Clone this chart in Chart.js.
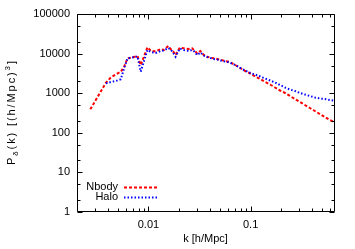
<!DOCTYPE html>
<html>
<head>
<meta charset="utf-8">
<script src="https://cdn.jsdelivr.net/npm/chart.js@4.4.1/dist/chart.umd.min.js"></script>
<style>
  html, body { margin: 0; padding: 0; background: #fff; }
</style>
</head>
<body>
<canvas id="powerChart" width="355" height="249"></canvas>
<script>
// wavenumber bins k [h/Mpc]
const kValues = [0.00270, 0.00384, 0.00430, 0.00480, 0.00537, 0.00579, 0.00624, 0.00699, 0.00781, 0.00841,
    0.00978, 0.01053, 0.01178, 0.01318, 0.01419, 0.01565, 0.01649, 0.01752, 0.01844, 0.0203,
    0.0222, 0.0249, 0.0268, 0.0278, 0.0300, 0.0323, 0.0348, 0.0375, 0.0404, 0.0435,
    0.0470, 0.0506, 0.0566, 0.0623, 0.0708, 0.0792, 0.0886, 0.0991, 0.1108, 0.1240,
    0.1388, 0.1552, 0.1736, 0.1942, 0.2173, 0.2430, 0.2719, 0.3041, 0.3401, 0.3805,
    0.4256, 0.4761, 0.5326, 0.5958, 0.6516];

// P(k) of the N-body particles
const nbodyPower = [392, 1842, 2521, 2966, 3491, 4670, 7607, 8066, 8700, 5153,
    14420, 11840, 11300, 13070, 12330, 15560, 13070, 11170, 9220, 14090,
    13610, 13070, 13610, 12330, 10180, 11630, 9220, 8350, 7880, 7607,
    7306, 7015, 6503, 6137, 5153, 4329, 3636, 3144, 2640, 2284,
    1918, 1658, 1393, 1170, 1012, 850, 714, 600, 504, 423,
    355, 298, 251, 210, 191];

// P(k) of the halos
const haloPower = [null, 1778, 1918, 2033, 2244, 4329, 7520, 7970, 8450, 3491,
    12330, 10980, 10360, 11630, 11970, 13850, 12690, 10360, 8350, 13450,
    12330, 11630, 12330, 11630, 9220, 10660, 8950, 8206, 7740, 7306,
    7100, 6695, 6318, 5962, 5153, 4329, 3743, 3236, 2966, 2640,
    2350, 2093, 1863, 1611, 1393, 1240, 1137, 1012, 927, 850,
    779, 735, 714, 673, 654];

const xTickLabels = ["0.01", "0.1"];
const yTickLabels = ["1", "10", "100", "1000", "10000", "100000"];

const FONT = '"Liberation Sans", Arial, Helvetica, sans-serif';
Chart.defaults.font.family = FONT;
Chart.defaults.font.size = 11;
Chart.defaults.color = "#000";

function pickLabel(list) {
    return function (value) {
        const s = String(Number(Number(value).toPrecision(6)));
        return list.includes(s) ? s : "";
    };
}

// gnuplot-like frame with inward ticks on all four sides
const frameTicks = {
    id: "frameTicks",
    afterDraw(chart) {
        const { ctx, chartArea: a } = chart;
        const x = chart.scales.x, y = chart.scales.y;
        const L = Math.round(a.left) + 0.5, R = Math.round(a.right) + 0.5;
        const T = Math.round(a.top) + 0.5, B = Math.round(a.bottom) - 0.5;
        ctx.save();
        ctx.strokeStyle = "#000";
        ctx.lineWidth = 1;
        ctx.beginPath();
        for (let e = -3; e <= 0; e++) {
            for (let m = 1; m <= 9; m++) {
                const v = m * Math.pow(10, e);
                if (v < x.min || v > x.max) continue;
                const px = Math.round(x.getPixelForValue(v)) + 0.5;
                const len = m === 1 ? 5 : 3;
                ctx.moveTo(px, B); ctx.lineTo(px, B - len);
                ctx.moveTo(px, T); ctx.lineTo(px, T + len);
            }
        }
        for (let e = 0; e <= 5; e++) {
            [1, 2, 5].forEach(m => {
                const v = m * Math.pow(10, e);
                if (v < y.min || v > y.max) return;
                const py = Math.round(y.getPixelForValue(v)) + 0.5;
                const len = m === 1 ? 5 : 3;
                ctx.moveTo(L, py); ctx.lineTo(L + len, py);
                ctx.moveTo(R, py); ctx.lineTo(R - len, py);
            });
        }
        ctx.rect(L, T, R - L, B - T);
        ctx.stroke();

        // y axis title with sub/superscript, spread out like the gnuplot one
        ctx.fillStyle = "#000";
        ctx.textBaseline = "alphabetic";
        const parts = [
            { t: "P", size: 11, dy: 0 },
            { t: "\u03b4", size: 8, dy: 3 },
            { t: "(k) [(h/Mpc)", size: 11, dy: 0 },
            { t: "3", size: 8, dy: -5 },
            { t: "]", size: 11, dy: 0 }
        ];
        const glyphs = [];
        parts.forEach(p => {
            ctx.font = p.size + "px " + FONT;
            for (const c of p.t) glyphs.push({ c, size: p.size, dy: p.dy, w: ctx.measureText(c).width });
        });
        const natural = glyphs.reduce((s, g) => s + g.w, 0);
        const span = 104;
        const gap = (span - natural) / (glyphs.length - 1);
        ctx.translate(15, 113);
        ctx.rotate(-Math.PI / 2);
        let cx = -span / 2;
        glyphs.forEach(g => {
            ctx.font = g.size + "px " + FONT;
            ctx.fillText(g.c, cx, g.dy);
            cx += g.w + gap;
        });
        ctx.restore();

        // key, gnuplot style: text then line sample
        ctx.save();
        ctx.font = "11px " + FONT;
        ctx.textAlign = "right";
        ctx.textBaseline = "middle";
        chart.data.datasets.forEach((ds, i) => {
            const ly = 187 + i * 10;
            ctx.fillStyle = "#000";
            ctx.fillText(ds.label, 118, ly);
            ctx.strokeStyle = ds.borderColor;
            ctx.lineWidth = ds.borderWidth;
            ctx.setLineDash(ds.borderDash);
            ctx.beginPath();
            ctx.moveTo(124, ly + 0.5);
            ctx.lineTo(158, ly + 0.5);
            ctx.stroke();
        });
        ctx.restore();
    }
};

function renderChart() {
    const ctx = document.getElementById("powerChart").getContext("2d");
    new Chart(ctx, {
        type: "line",
        data: {
            datasets: [
                {
                    label: "Nbody",
                    data: kValues.map((k, i) => ({ x: k, y: nbodyPower[i] })),
                    borderColor: "rgb(255,0,0)",
                    borderWidth: 2,
                    borderDash: [3, 2],
                    pointRadius: 0,
                    tension: 0,
                    order: 1,
                },
                {
                    label: "Halo",
                    data: kValues.map((k, i) => ({ x: k, y: haloPower[i] })),
                    borderColor: "rgb(0,0,255)",
                    borderWidth: 2,
                    borderDash: [1.5, 2],
                    pointRadius: 0,
                    tension: 0,
                    order: 0,
                },
            ],
        },
        options: {
            responsive: false,
            animation: false,
            devicePixelRatio: 1,
            layout: { padding: { left: 0, right: 21, top: 14, bottom: 0 } },
            plugins: {
                legend: { display: false },
                tooltip: { enabled: false },
            },
            scales: {
                x: {
                    type: "logarithmic",
                    min: 0.002,
                    max: 0.655,
                    grid: { display: false, drawTicks: false },
                    border: { display: false },
                    ticks: { autoSkip: false, maxRotation: 0, padding: 6, callback: pickLabel(xTickLabels) },
                    title: { display: true, text: "k [h/Mpc]", padding: { top: 0, bottom: 3 } },
                    afterFit(scale) { scale.height = 37; },
                },
                y: {
                    type: "logarithmic",
                    min: 1,
                    max: 100000,
                    grid: { display: false, drawTicks: false },
                    border: { display: false },
                    ticks: { autoSkip: false, padding: 7, callback: pickLabel(yTickLabels) },
                    afterFit(scale) { scale.width = 77; },
                },
            },
        },
        plugins: [frameTicks],
    });
}

document.addEventListener("DOMContentLoaded", renderChart);
</script>
</body>
</html>
